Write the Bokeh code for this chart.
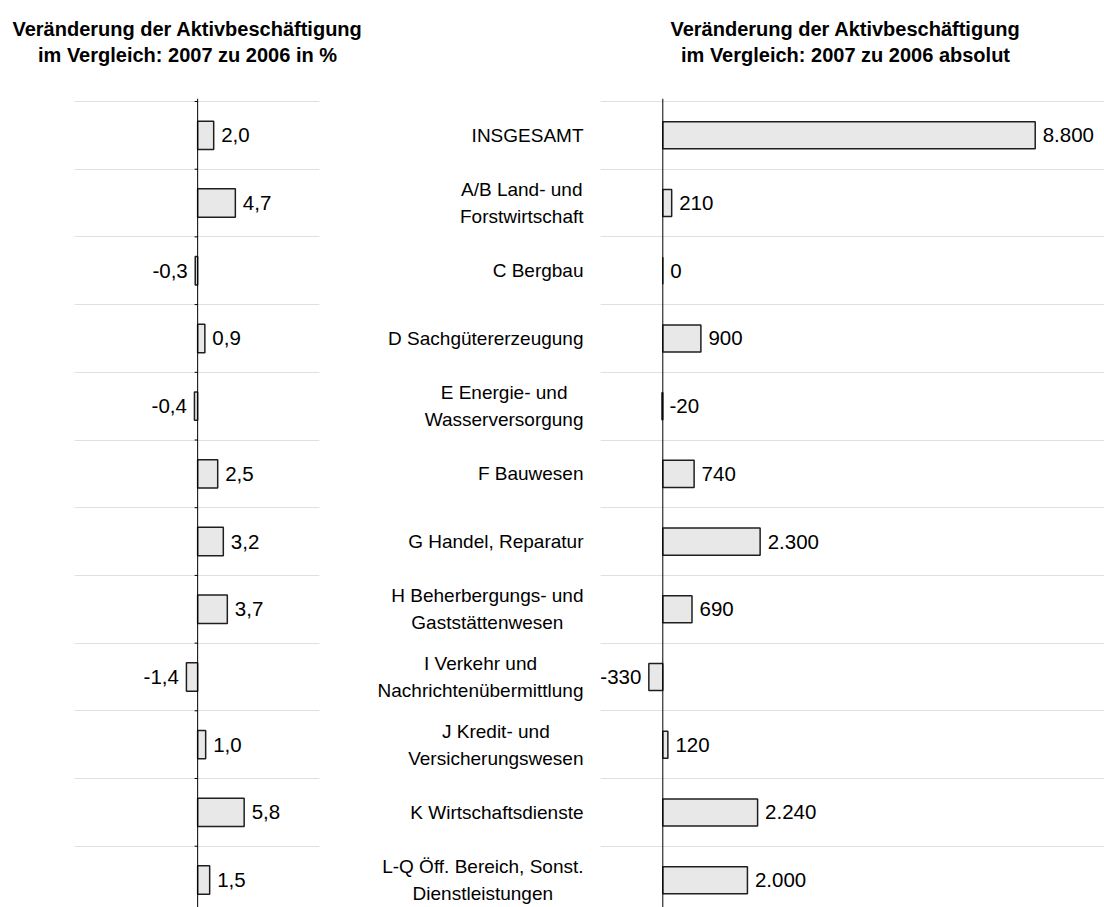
from bokeh.plotting import figure
from bokeh.layouts import column, row
from bokeh.models import Range1d, FixedTicker, ColumnDataSource, Span
from bokeh.core.properties import value
from bokeh.embed import file_html
from bokeh.resources import INLINE

categories = [
    "INSGESAMT",
    "A/B Land- und\nForstwirtschaft",
    "C Bergbau",
    "D Sachgütererzeugung",
    "E Energie- und\nWasserversorgung",
    "F Bauwesen",
    "G Handel, Reparatur",
    "H Beherbergungs- und\nGaststättenwesen",
    "I Verkehr und\nNachrichtenübermittlung",
    "J Kredit- und\nVersicherungswesen",
    "K Wirtschaftsdienste",
    "L-Q Öff. Bereich, Sonst.\nDienstleistungen",
]
pct_change = [2.0, 4.7, -0.3, 0.9, -0.4, 2.5, 3.2, 3.7, -1.4, 1.0, 5.8, 1.5]
abs_change = [8800, 210, 0, 900, -20, 740, 2300, 690, -330, 120, 2240, 2000]

title_left = ["Veränderung der Aktivbeschäftigung", "im Vergleich: 2007 zu 2006 in %"]
title_right = ["Veränderung der Aktivbeschäftigung", "im Vergleich: 2007 zu 2006 absolut"]

FONT = "Liberation Sans"
BAR_FILL = "#e8e8e8"
BAR_LINE = "#1f1f1f"
GRID = "#e0e0e0"

n = len(categories)
ypos = [i + 0.5 for i in range(n)]
bounds = list(range(n + 1))

TITLE_H = 80
ROW_H = 907 - TITLE_H
PAD = 3  # px of frame above the first grid line


def base_fig(width, grid_top, row_px, xr, left=0, right=0):
    top_border = grid_top - PAD - TITLE_H
    yr = Range1d((907 - grid_top) / row_px, -PAD / row_px)
    p = figure(width=width, height=ROW_H, x_range=xr, y_range=yr,
               output_backend="svg", toolbar_location=None,
               min_border_left=left, min_border_right=right,
               min_border_top=top_border, min_border_bottom=0)
    p.outline_line_color = None
    p.xaxis.visible = False
    p.yaxis.visible = False
    p.xgrid.grid_line_color = None
    p.ygrid.ticker = FixedTicker(ticks=bounds)
    p.ygrid.grid_line_color = GRID
    p.ygrid.grid_line_width = 1
    p.background_fill_color = None
    p.border_fill_color = None
    return p


def add_axis_line(p, grid_top, row_px):
    p.add_layout(Span(location=0, dimension="height", line_color="black", line_width=1))


# ---------- title strip ----------
tf = figure(width=1104, height=TITLE_H, x_range=Range1d(0, 1104), y_range=Range1d(TITLE_H, 0),
            output_backend="svg", toolbar_location=None,
            min_border_left=0, min_border_right=0, min_border_top=0, min_border_bottom=0)
tf.axis.visible = False
tf.grid.grid_line_color = None
tf.outline_line_color = None
tsrc = ColumnDataSource(dict(
    x=[187, 187, 845, 845],
    y=[28, 54, 28, 54],
    t=title_left + title_right,
))
tf.text(x="x", y="y", text="t", source=tsrc, text_font=value(FONT), text_font_style="bold",
        text_font_size="20px", text_align="center", text_baseline="alphabetic", text_color="black")

# ---------- left chart (percent) ----------
L_SCALE = 8.03
L_ROW = 67.7
lf = base_fig(340, 101, L_ROW,
              Range1d((74 - 197.3) / L_SCALE, (319.3 - 197.3) / L_SCALE),
              left=74, right=340 - 319)
lf.ygrid.grid_line_color = GRID
# axis line and small ticks pointing left
lf.add_layout(Span(location=0, dimension="height", line_color="black", line_width=1))
lf.segment(x0=0, x1=-3 / L_SCALE, y0=bounds, y1=bounds, line_color="black", line_width=1)
lsrc = ColumnDataSource(dict(
    y=ypos, v=pct_change,
    lab=[f"{v:.1f}".replace(".", ",") for v in pct_change],
    off=[-7.5 if v < 0 else 7.5 for v in pct_change],
    al=["right" if v < 0 else "left" for v in pct_change],
))
lf.hbar(y="y", left=0, right="v", height=0.42, source=lsrc,
        fill_color=BAR_FILL, line_color=BAR_LINE, line_width=1.5)
lf.text(x="v", y="y", text="lab", x_offset="off", text_align="al", source=lsrc,
        text_font=value(FONT), text_font_size="20.5px", text_baseline="middle", text_color="black")

# ---------- right chart (absolute) ----------
R_SCALE = 0.04232
R_ROW = 68.3
rf = base_fig(504, 94, R_ROW, Range1d(-62.3 / R_SCALE, (504 - 62.3) / R_SCALE))
rf.add_layout(Span(location=0, dimension="height", line_color="black", line_width=1))
rsrc = ColumnDataSource(dict(
    y=ypos, v=abs_change,
    lab=[f"{v:,}".replace(",", ".") for v in abs_change],
    off=[-7.5 if v * R_SCALE < -2 else 7.5 for v in abs_change],
    al=["right" if v * R_SCALE < -2 else "left" for v in abs_change],
))
rf.hbar(y="y", left=0, right="v", height=0.40, source=rsrc,
        fill_color=BAR_FILL, line_color=BAR_LINE, line_width=1.5)
rf.text(x="v", y="y", text="lab", x_offset="off", text_align="al", source=rsrc,
        text_font=value(FONT), text_font_size="20.5px", text_baseline="middle", text_color="black")

# ---------- category labels (middle) ----------
mf = base_fig(260, 94, R_ROW, Range1d(0, 260))
mf.y_range = rf.y_range
mf.ygrid.grid_line_color = None
msrc = ColumnDataSource(dict(y=ypos, c=categories, x=[243] * n))
mf.text(x="x", y="y", text="c", source=msrc, anchor="center_right", text_align="center",
        text_baseline="middle", text_font=value(FONT), text_font_size="19px",
        text_line_height=1.3, text_color="black")

layout = column(tf, row(lf, mf, rf, spacing=0), spacing=0)
open("out.html", "w").write(file_html(layout, INLINE))
